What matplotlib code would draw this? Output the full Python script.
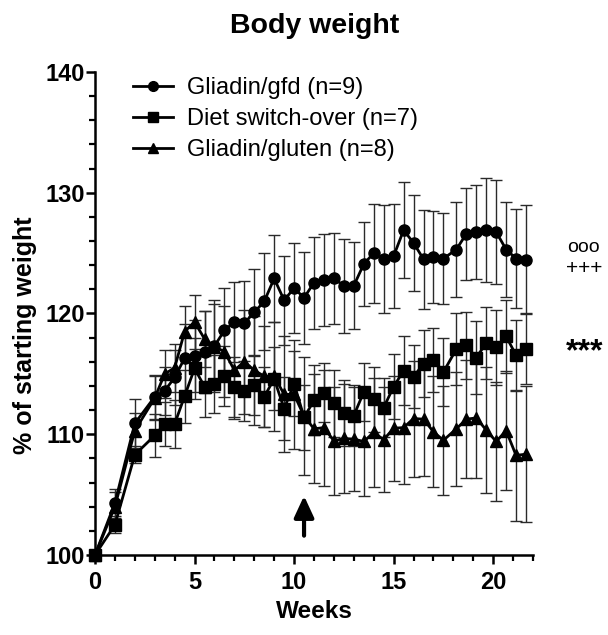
import matplotlib
matplotlib.use("Agg")
import matplotlib.pyplot as plt
from matplotlib.lines import Line2D
from matplotlib.ticker import MultipleLocator

plt.rcParams['font.family'] = ['Liberation Sans', 'DejaVu Sans']

weeks = [0, 1, 2, 3, 3.5, 4, 4.5, 5, 5.5, 6, 6.5, 7, 7.5, 8, 8.5, 9, 9.5, 10, 10.5,
         11, 11.5, 12, 12.5, 13, 13.5, 14, 14.5, 15, 15.5, 16, 16.5, 17, 17.5,
         18.15, 18.65, 19.15, 19.65, 20.15, 20.65, 21.15, 21.65]

gfd = [100, 104.3, 110.9, 113.1, 113.6, 114.7, 116.3, 116.5, 116.8, 117.3, 118.6,
       119.3, 119.2, 120.1, 121.0, 122.9, 121.1, 122.1, 121.3, 122.55, 122.8, 122.9,
       122.3, 122.3, 124.1, 125.0, 124.5, 124.75, 126.9, 125.85, 124.5, 124.7, 124.55,
       125.3, 126.6, 126.75, 126.9, 126.75, 125.3, 124.55, 124.45]
gfd_err = [0, 1.2, 2.0, 1.8, 2.0, 2.3, 2.8, 3.0, 3.4, 3.8, 3.5, 3.3, 3.5, 3.6, 4.0,
           3.6, 3.7, 3.7, 3.8, 3.8, 3.8, 3.8, 3.9, 3.6, 3.5, 4.1, 4.5, 4.3, 4.0, 3.95,
           4.1, 3.8, 3.8, 3.9, 3.8, 3.9, 4.3, 4.3, 3.9, 4.1, 4.5]

switch = [100, 102.5, 108.3, 109.9, 110.85, 110.85, 113.15, 115.45, 113.95, 114.2,
          114.8, 113.9, 113.6, 114.1, 113.1, 114.6, 112.1, 114.2, 111.4, 112.8, 113.45,
          112.55, 111.75, 111.55, 113.5, 112.9, 112.2, 113.95, 115.25, 114.75, 115.85,
          116.15, 115.15, 117.05, 117.35, 116.35, 117.55, 117.2, 118.1, 116.55, 117.1]
switch_err = [0, 0.7, 0.7, 1.8, 1.8, 2.0, 2.2, 2.5, 2.5, 2.4, 2.5, 2.5, 2.5, 2.5, 2.5,
              2.6, 2.6, 2.7, 2.7, 2.9, 2.45, 2.75, 2.75, 2.5, 2.4, 2.7, 2.45, 2.7, 2.85,
              2.6, 2.8, 2.65, 2.85, 2.95, 2.8, 3.0, 3.0, 3.1, 3.0, 2.95, 2.9]

gluten = [100, 104.0, 110.3, 113.0, 115.0, 115.5, 118.5, 119.3, 117.9, 117.25, 116.85,
          115.3, 116.0, 115.3, 114.8, 114.8, 113.3, 113.3, 111.5, 110.45, 110.55, 109.45,
          109.65, 109.6, 109.4, 110.15, 109.55, 110.5, 110.55, 111.3, 111.25, 110.2, 109.5,
          110.45, 111.25, 111.35, 110.35, 109.4, 110.3, 108.25, 108.35]
gluten_err = [0, 1.2, 1.5, 1.8, 2.0, 2.0, 2.1, 2.2, 2.3, 3.5, 3.8, 4.0, 4.3, 4.5, 4.2,
              4.5, 4.8, 4.5, 4.9, 4.5, 4.8, 4.5, 4.55, 4.3, 4.5, 4.5, 4.35, 4.35, 4.65,
              4.8, 4.7, 4.6, 4.5, 4.7, 4.9, 5.0, 5.2, 4.9, 4.9, 5.4, 5.65]

labels = ["Gliadin/gfd (n=9)", "Diet switch-over (n=7)", "Gliadin/gluten (n=8)"]
markers = ["o", "s", "^"]
marker_sizes = [8, 8, 8.5]
switch_week = 10.5

W, H = 608, 635
fig = plt.figure(figsize=(W / 100, H / 100), dpi=100)
ax = fig.add_axes([95 / W, 1 - 555 / H, (533 - 95) / W, (555 - 72) / H])

series = [(gfd, gfd_err), (switch, switch_err), (gluten, gluten_err)]
for (vals, errs), m, ms in zip(series, markers, marker_sizes):
    ax.errorbar(weeks, vals, yerr=errs, fmt='none', ecolor='#2a2a2a',
                elinewidth=1.0, capsize=4.5, capthick=1.0, zorder=2, clip_on=False)
    ax.plot(weeks, vals, color='black', lw=2.0, marker=m, ms=ms,
            mfc='black', mec='black', zorder=3, clip_on=False)

ax.set_xlim(0, 22)
ax.set_ylim(100, 140)
ax.xaxis.set_major_locator(MultipleLocator(5))
ax.xaxis.set_minor_locator(MultipleLocator(1))
ax.yaxis.set_major_locator(MultipleLocator(10))
ax.yaxis.set_minor_locator(MultipleLocator(2))
for s in ['top', 'right']:
    ax.spines[s].set_visible(False)
for s in ['left', 'bottom']:
    ax.spines[s].set_linewidth(1.8)
ax.tick_params(which='major', length=6.5, width=1.8, direction='out', pad=1,
               labelsize=17)
ax.tick_params(which='minor', length=4, width=1.6, direction='out')
ax.tick_params(axis='x', which='major', pad=5)
for lab in ax.get_xticklabels() + ax.get_yticklabels():
    lab.set_fontweight('bold')

fig.text(315 / W, 1 - 26 / H, "Body weight", ha='center', va='center',
         fontsize=20.5, fontweight='bold')
fig.text(314 / W, 1 - 612 / H, "Weeks", ha='center', va='center',
         fontsize=17.5, fontweight='bold')
fig.text(25 / W, 1 - 335 / H, "% of starting weight", ha='center', va='center',
         rotation=90, fontsize=18, fontweight='bold')

handles = [Line2D([], [], color='black', lw=2, marker=m, ms=ms - 1)
           for m, ms in zip(markers, marker_sizes)]
ax.legend(handles, labels, loc='upper left', bbox_to_anchor=(133 / W, 1 - 77 / H),
          bbox_transform=fig.transFigure, frameon=False, fontsize=17,
          handlelength=1.7, handletextpad=0.6, labelspacing=0.38,
          borderpad=0, borderaxespad=0)

fig.text(567 / W, 1 - 247 / H, "ooo", ha='left', va='center', fontsize=14)
fig.text(566 / W, 1 - 269 / H, "+++", ha='left', va='center', fontsize=15)
fig.text(566 / W, 1 - 352 / H, "***", ha='left', va='center', fontsize=23,
         fontweight='bold')

ax.annotate("", xy=(switch_week, 104.9), xytext=(switch_week, 101.6),
            arrowprops=dict(arrowstyle='-|>,head_length=1.3,head_width=0.6',
                            color='black', lw=3, shrinkA=0, shrinkB=0))

fig.savefig("out.png", dpi=100)
